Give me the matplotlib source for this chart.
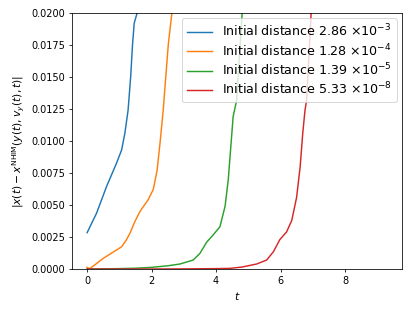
import matplotlib
matplotlib.use("Agg")
import matplotlib.pyplot as plt

# distance from NHIM
t_blue = [0, 0.29, 0.60, 0.91, 1.07, 1.17, 1.27, 1.35, 1.41, 1.46, 1.55, 1.62]
d_blue = [0.00284, 0.00435, 0.00643, 0.00826, 0.0093, 0.0106, 0.0124, 0.0150, 0.0176, 0.0192, 0.0200, 0.0215]

t_orange = [0, 0.08, 0.5, 1.07, 1.2, 1.33, 1.48, 1.64, 1.89, 2.05, 2.17, 2.26, 2.36, 2.44, 2.52, 2.63, 2.70]
d_orange = [0.00013, 0.00002, 0.00083, 0.00174, 0.0022, 0.0028, 0.0037, 0.0045, 0.0054, 0.0062,
            0.0077, 0.0098, 0.0124, 0.0150, 0.0176, 0.0200, 0.0215]

t_green = [0, 1.0, 1.5, 2.0, 2.5, 2.88, 3.29, 3.50, 3.71, 3.91, 4.12, 4.28, 4.38, 4.45, 4.53, 4.64, 4.81, 4.88]
d_green = [0, 0.00003, 0.00006, 0.00013, 0.00025, 0.00039, 0.0007, 0.00122, 0.0021, 0.00266,
           0.0033, 0.0049, 0.0070, 0.0093, 0.0119, 0.0132, 0.0200, 0.0215]

t_red = [0, 2, 3, 4, 4.43, 4.8, 5.26, 5.57, 5.78, 5.98, 6.19, 6.35, 6.50, 6.61, 6.69, 6.76, 6.81, 6.95, 7.02]
d_red = [0, 0, 0.00001, 0.00003, 0.00005, 0.00015, 0.00039, 0.0007, 0.00135, 0.0023,
         0.0029, 0.0038, 0.0056, 0.0080, 0.0106, 0.0124, 0.0132, 0.0200, 0.0215]

labels = [r"Initial distance 2.86 $\times 10^{-3}$",
          r"Initial distance 1.28 $\times 10^{-4}$",
          r"Initial distance 1.39 $\times 10^{-5}$",
          r"Initial distance 5.33 $\times 10^{-8}$"]

fig = plt.figure(figsize=(415 / 70, 311 / 70), dpi=70)
ax = fig.add_axes([72 / 415, 42 / 311, 330 / 415, 256 / 311])

ax.plot(t_blue, d_blue, label=labels[0])
ax.plot(t_orange, d_orange, label=labels[1])
ax.plot(t_green, d_green, label=labels[2])
ax.plot(t_red, d_red, label=labels[3])

ax.set_xlim(-0.47, 9.77)
ax.set_ylim(0, 0.02)
ax.set_xticks([0, 2, 4, 6, 8])
ax.set_yticks([0, 0.0025, 0.005, 0.0075, 0.01, 0.0125, 0.015, 0.0175, 0.02])
ax.set_yticklabels(["%.4f" % v for v in ax.get_yticks()])
ax.set_xlabel(r"$t$", fontsize=11)
ax.set_ylabel(r"$|x(t) - x^{\mathrm{NHIM}}(y(t), v_y(t), t)|$", fontsize=11)
ax.legend(loc="upper right", fontsize=13, labelspacing=0.2, borderaxespad=0.4)

fig.savefig("out.png", dpi=70)
